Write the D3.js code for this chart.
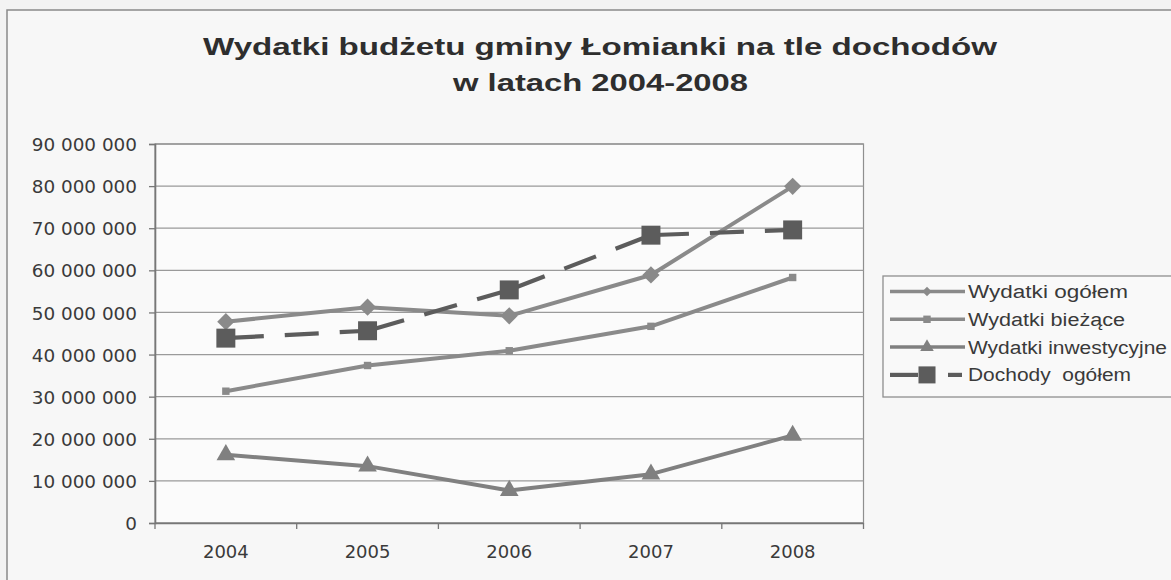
<!DOCTYPE html>
<html>
<head>
<meta charset="utf-8">
<script src="https://cdn.jsdelivr.net/npm/d3@7"></script>
<style>
html,body{margin:0;padding:0;background:#f3f3f3;}
svg{display:block;}
</style>
</head>
<body>
<svg id="chart" width="1171" height="580"></svg>
<script>
const titleLines = ["Wydatki budżetu gminy Łomianki na tle dochodów", "w latach 2004-2008"];
const categories = ["2004", "2005", "2006", "2007", "2008"];
const wydatkiOgolem = [47800000, 51250000, 49200000, 58900000, 79950000];
const wydatkiBiezace = [31300000, 37400000, 40900000, 46700000, 58300000];
const wydatkiInwestycyjne = [16200000, 13500000, 7700000, 11600000, 20800000];
const dochodyOgolem = [43900000, 45650000, 55350000, 68350000, 69600000];
const yTicks = [0, 10000000, 20000000, 30000000, 40000000, 50000000, 60000000, 70000000, 80000000, 90000000];
const seriesNames = ["Wydatki ogółem", "Wydatki bieżące", "Wydatki inwestycyjne", "Dochody  ogółem"];

const svg = d3.select("#chart");
const W = 1171, H = 580;
const plot = {left: 155, right: 863.5, top: 144, bottom: 523};
const font = "'DejaVu Sans', sans-serif";
const arial = "'Liberation Sans', Arial, sans-serif";
const textCol = "#3a3a3a";
const lineCol = "#8a8a8a";
const darkCol = "#5c5c5c";

// chart area border
svg.append("rect").attr("x", 0).attr("y", 0).attr("width", W).attr("height", H).attr("fill", "#f3f3f3");
svg.append("rect").attr("x", 7).attr("y", 10).attr("width", W + 20).attr("height", H + 20)
  .attr("fill", "#f7f7f7").attr("stroke", "#8a8a8a").attr("stroke-width", 1.5);

// title
const tl = svg.append("g");
tl.append("text").attr("x", 600).attr("y", 55).attr("text-anchor", "middle")
  .attr("font-family", arial).attr("font-weight", "bold").attr("font-size", 24).attr("fill", "#2e2e2e")
  .attr("textLength", 794).attr("lengthAdjust", "spacingAndGlyphs").text(titleLines[0]);
tl.append("text").attr("x", 600.5).attr("y", 91).attr("text-anchor", "middle")
  .attr("font-family", arial).attr("font-weight", "bold").attr("font-size", 24).attr("fill", "#2e2e2e")
  .attr("textLength", 295).attr("lengthAdjust", "spacingAndGlyphs").text(titleLines[1]);

// plot area
svg.append("rect").attr("x", plot.left).attr("y", plot.top)
  .attr("width", plot.right - plot.left).attr("height", plot.bottom - plot.top)
  .attr("fill", "#fbfbfb").attr("stroke", "#8f8f8f").attr("stroke-width", 1.2);

const x = d3.scaleBand().domain(categories).range([plot.left, plot.right]).padding(0);
const y = d3.scaleLinear().domain([0, 90000000]).range([plot.bottom, plot.top]);

// gridlines
svg.append("g").selectAll("line").data(yTicks).join("line")
  .attr("x1", plot.left).attr("x2", plot.right)
  .attr("y1", d => y(d)).attr("y2", d => y(d))
  .attr("stroke", "#9a9a9a").attr("stroke-width", 1.3);

// y axis
const fmt = d => d === 0 ? "0" : d3.format(",")(d).replace(/,/g, " ");
const yAxis = svg.append("g").attr("transform", `translate(${plot.left},0)`)
  .call(d3.axisLeft(y).tickValues(yTicks).tickFormat(fmt).tickSize(6).tickPadding(12));
yAxis.select(".domain").attr("stroke", "#777").attr("stroke-width", 1.6);
yAxis.selectAll(".tick line").attr("stroke", "#777").attr("stroke-width", 1.3);
yAxis.selectAll(".tick text").attr("font-family", font).attr("font-size", 18.4).attr("fill", textCol)
  .attr("dy", "0.36em");

// x axis
const xAxis = svg.append("g").attr("transform", `translate(0,${plot.bottom})`)
  .call(d3.axisBottom(x).tickSize(0).tickPadding(22));
xAxis.select(".domain").attr("stroke", "#777").attr("stroke-width", 1.6);
xAxis.selectAll(".tick text").attr("font-family", font).attr("font-size", 18).attr("fill", textCol);
// category boundary tick marks
const bounds = categories.map(c => x(c)).concat([x(categories[categories.length - 1]) + x.bandwidth()]);
xAxis.selectAll(".btick").data(bounds).join("line").attr("class", "btick")
  .attr("x1", d => d).attr("x2", d => d).attr("y1", 0).attr("y2", 6)
  .attr("stroke", "#777").attr("stroke-width", 1.3);

const cx = c => x(c) + x.bandwidth() / 2;
const line = d3.line().x(d => cx(d.c)).y(d => y(d.v));
const toPts = arr => arr.map((v, i) => ({c: categories[i], v}));

const series = [
  {name: seriesNames[0], data: wydatkiOgolem, color: lineCol, dash: null, marker: "diamond", size: 190},
  {name: seriesNames[1], data: wydatkiBiezace, color: lineCol, dash: null, marker: "square", size: 55},
  {name: seriesNames[2], data: wydatkiInwestycyjne, color: "#808080", dash: null, marker: "triangle", size: 150},
  {name: seriesNames[3], data: dochodyOgolem, color: darkCol, dash: "34,21", marker: "square", size: 360}
];
const symType = {diamond: d3.symbolDiamond2, square: d3.symbolSquare, triangle: d3.symbolTriangle};

const gS = svg.append("g");
series.forEach((s, si) => {
  const pts = toPts(s.data);
  const g = gS.append("g");
  if (s.dash) {
    for (let i = 0; i < pts.length - 1; i++) {
      g.append("path").attr("d", line([pts[i], pts[i + 1]]))
        .attr("fill", "none").attr("stroke", s.color).attr("stroke-width", 4.2)
        .attr("stroke-dasharray", s.dash).attr("stroke-dashoffset", -4);
    }
  } else {
    g.append("path").attr("d", line(pts)).attr("fill", "none")
      .attr("stroke", s.color).attr("stroke-width", 4).attr("stroke-linejoin", "round");
  }
  g.selectAll("path.m").data(pts).join("path").attr("class", "m")
    .attr("transform", d => `translate(${cx(d.c)},${y(d.v)})`)
    .attr("d", d3.symbol().type(symType[s.marker]).size(s.size))
    .attr("fill", s.color);
});

// legend
const lg = svg.append("g");
lg.append("rect").attr("x", 883).attr("y", 276).attr("width", 320).attr("height", 121)
  .attr("fill", "#f9f9f9").attr("stroke", "#8f8f8f").attr("stroke-width", 1.3);
const legendText = [160, 157, 199, 163];
const rowY = i => 291.5 + i * 27.8;
series.forEach((s, i) => {
  const ry = rowY(i);
  const g = lg.append("g");
  if (s.dash) {
    g.append("line").attr("x1", 890).attr("x2", 918).attr("y1", ry).attr("y2", ry)
      .attr("stroke", s.color).attr("stroke-width", 4.2);
    g.append("line").attr("x1", 948).attr("x2", 962).attr("y1", ry).attr("y2", ry)
      .attr("stroke", s.color).attr("stroke-width", 4.2);
    g.append("path").attr("transform", `translate(927,${ry})`)
      .attr("d", d3.symbol().type(d3.symbolSquare).size(290)).attr("fill", s.color);
  } else {
    g.append("line").attr("x1", 890).attr("x2", 965).attr("y1", ry).attr("y2", ry)
      .attr("stroke", s.color).attr("stroke-width", 3.5);
    g.append("path").attr("transform", `translate(927,${ry})`)
      .attr("d", d3.symbol().type(symType[s.marker]).size(s.marker === "triangle" ? 80 : 55)).attr("fill", s.color);
  }
  g.append("text").attr("x", 968).attr("y", ry).attr("dy", "0.36em")
    .attr("font-family", arial).attr("font-size", 18).attr("fill", textCol)
    .style("white-space", "pre")
    .attr("textLength", legendText[i]).attr("lengthAdjust", "spacingAndGlyphs")
    .text(s.name);
});
</script>
</body>
</html>
